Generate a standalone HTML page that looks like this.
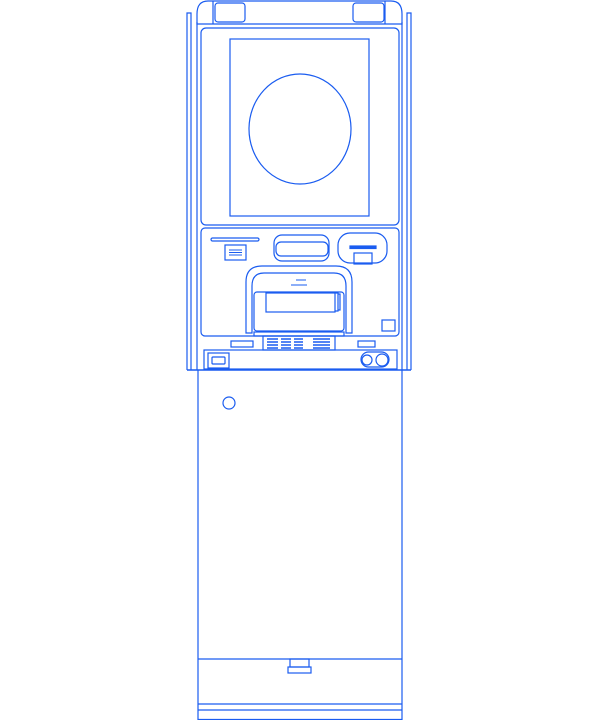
<!DOCTYPE html>
<html><head><style>body{margin:0;background:#fff}svg{display:block}</style></head><body>
<svg width="600" height="720" viewBox="0 0 600 720" xmlns="http://www.w3.org/2000/svg" fill="none" stroke="#1a5cf0" stroke-width="1.2">
<!-- side rails -->
<path d="M187 370V13H191V370M191 13V370"/>
<path d="M411 370V13H407V370"/>
<!-- upper body sides -->
<path d="M197 22V370M402 22V370"/>
<!-- top cap -->
<path d="M208 1H391Q402 1 402 14V24H197V14Q197 1 208 1Z"/>
<line x1="213" y1="1" x2="213" y2="24"/><line x1="385" y1="1" x2="385" y2="24"/>
<rect x="215" y="3" width="30" height="19" rx="3"/>
<rect x="353" y="3" width="31" height="19" rx="3"/>
<!-- screen -->
<rect x="201" y="28" width="198" height="197" rx="5"/>
<rect x="230" y="39" width="139" height="177"/>
<ellipse cx="300" cy="129" rx="51" ry="55"/>
<!-- panel -->
<rect x="201" y="228" width="198" height="108" rx="4"/>
<rect x="211" y="238" width="48" height="3" rx="1.5"/>
<rect x="225" y="245" width="21" height="15"/>
<path d="M229 250H242M229 252.5H242M229 255H242" stroke-width="1"/>
<rect x="274" y="235" width="55" height="26" rx="8"/>
<rect x="276" y="242" width="52" height="14" rx="5"/>
<rect x="338" y="233" width="49" height="30" rx="12"/>
<rect x="350" y="246" width="26" height="2.5" fill="#1a5cf0"/>
<rect x="354" y="253" width="18" height="11"/>
<!-- arch -->
<path d="M246 333V282Q246 266 262 266H336Q352 266 352 282V333H346V286Q346 273 334 273H264Q252 273 252 286V333Z"/>
<path d="M291 285H307M296 280H306" stroke-width="1"/>
<rect x="254" y="292" width="90" height="39" rx="3"/>
<rect x="266" y="293" width="69" height="19"/>
<path d="M335 293H338V311H335M338 294H340V310H338"/>
<rect x="254" y="332" width="90" height="4"/>
<rect x="382" y="320" width="13" height="11"/>
<!-- below panel -->
<rect x="231" y="341" width="22" height="6"/>
<rect x="263" y="336" width="72" height="14"/>
<path d="M267 339H278M281 339H291M294 339H303M313 339H330M267 342H278M281 342H291M294 342H303M313 342H330M267 345H278M281 345H291M294 345H303M313 345H330M267 348H278M281 348H291M294 348H303M313 348H330" stroke-width="1.4"/>
<rect x="358" y="341" width="17" height="6"/>
<!-- lower strip -->
<rect x="204" y="350" width="193" height="19"/>
<rect x="208" y="353" width="21" height="15"/>
<rect x="212" y="357" width="13" height="7" rx="1"/>
<rect x="361" y="352" width="28" height="15" rx="7.5"/>
<circle cx="367" cy="360" r="5"/><circle cx="382" cy="360" r="6"/>
<line x1="187" y1="370" x2="411" y2="370" stroke-width="1.6"/>
<!-- cabinet -->
<path d="M198 370V720M402 370V720"/>
<circle cx="229" cy="403" r="6"/>
<line x1="198" y1="659" x2="402" y2="659"/>
<rect x="290" y="659" width="19" height="8"/>
<rect x="288" y="667" width="23" height="6"/>
<line x1="198" y1="704" x2="402" y2="704"/>
<line x1="198" y1="710" x2="402" y2="710"/>
<line x1="198" y1="719.5" x2="402" y2="719.5"/>
</svg>
</body></html>
